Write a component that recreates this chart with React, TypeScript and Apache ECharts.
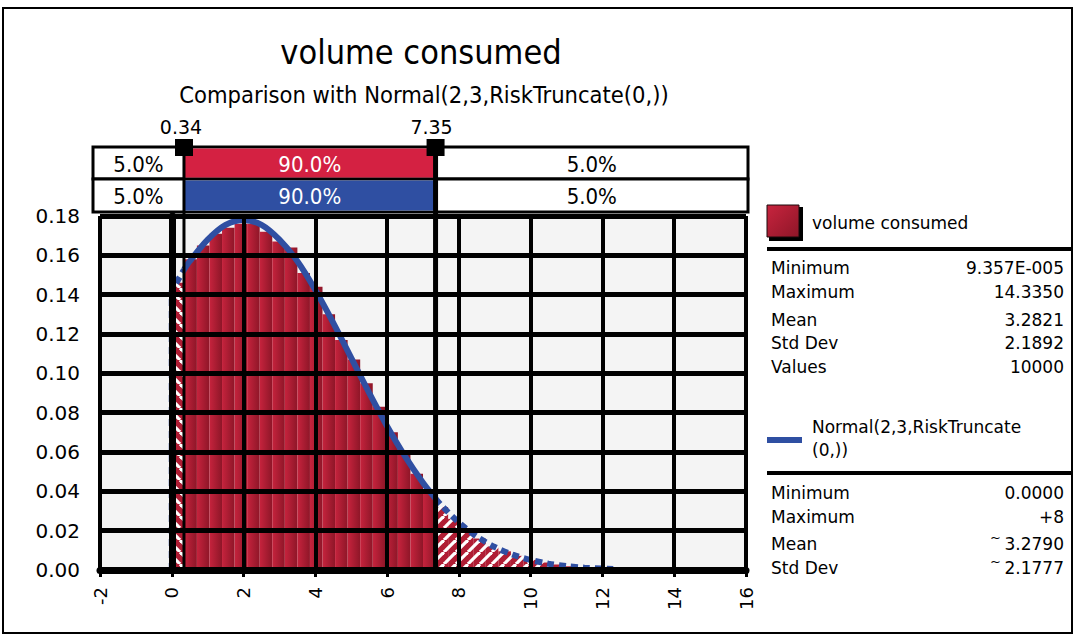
import React, { useEffect, useRef } from 'react';
import * as echarts from 'echarts';

// ---- texts ----
const TITLE = 'volume consumed';
const SUBTITLE = 'Comparison with Normal(2,3,RiskTruncate(0,))';
const SIM_NAME = 'volume consumed';
const FIT_NAME_LINES = ['Normal(2,3,RiskTruncate', '(0,))'];

// ---- delimiters and band percentages ----
const DELIMITERS = [0.34, 7.35];
const DELIMITER_LABELS = ['0.34', '7.35'];
const SIM_BANDS = ['5.0%', '90.0%', '5.0%'];
const FIT_BANDS = ['5.0%', '90.0%', '5.0%'];

// ---- axes ----
const X_MIN = -2;
const X_MAX = 16;
const X_STEP = 2;
const Y_MIN = 0;
const Y_MAX = 0.18;
const Y_STEP = 0.02;

// ---- simulated histogram (bin lower edges, bin width, density) ----
const BIN_WIDTH = 0.35;
const binStarts = [
  0, 0.35, 0.7, 1.05, 1.4, 1.75, 2.1, 2.45, 2.8, 3.15,
  3.5, 3.85, 4.2, 4.55, 4.9, 5.25, 5.6, 5.95, 6.3, 6.65,
  7.0, 7.35, 7.7, 8.05, 8.4, 8.75, 9.1, 9.45, 9.8, 10.15,
  10.5, 10.85, 11.2, 11.55, 11.9, 12.25, 12.6, 12.95, 13.3, 13.65,
  14.0,
];
const binDensity = [
  0.146, 0.158, 0.165, 0.171, 0.174, 0.176, 0.176, 0.172, 0.167, 0.164,
  0.151, 0.144, 0.130, 0.117, 0.107, 0.095, 0.083, 0.070, 0.059, 0.049,
  0.041, 0.032, 0.026, 0.020, 0.016, 0.012, 0.0095, 0.0072, 0.0052, 0.0038,
  0.0028, 0.0019, 0.0013, 0.0009, 0.0006, 0.0004, 0.0003, 0.0002, 0.0001, 0.0001,
  0.0001,
];

// ---- fitted Normal(2,3) truncated at 0 ----
const fitX = [
  0, 0, 0.34, 0.5, 1.0, 1.5, 2.0, 2.5, 3.0, 3.5, 4.0, 4.5, 5.0, 5.5, 6.0, 6.5, 7.0,
  7.35, 7.5, 8.0, 8.5, 9.0, 9.5, 10.0, 10.5, 11.0, 11.5, 12.0, 12.3,
];
const fitY = [
  0, 0.142, 0.1527, 0.157, 0.168, 0.1755, 0.178, 0.1755, 0.168, 0.157, 0.1424, 0.1257,
  0.1079, 0.0901, 0.0731, 0.0578, 0.0444, 0.0363, 0.0331, 0.0241, 0.017, 0.0117,
  0.0078, 0.0051, 0.0032, 0.002, 0.0012, 0.0007, 0.0005,
];

// ---- statistics panels ----
const simStatLabels = ['Minimum', 'Maximum', 'Mean', 'Std Dev', 'Values'];
const simStatValues = ['9.357E-005', '14.3350', '3.2821', '2.1892', '10000'];
const fitStatLabels = ['Minimum', 'Maximum', 'Mean', 'Std Dev'];
const fitStatValues = ['0.0000', '+8', '3.2790', '2.1777'];
const fitStatApprox = [false, false, true, true];

const FONT = '"DejaVu Sans", sans-serif';
const FONT_C = '"DejaVu Sans Condensed", "DejaVu Sans", sans-serif';
const RED = '#b01d34';
const RED_BAND = '#d42142';
const BLUE = '#2f4fa2';
const PLOT_BG = '#f4f4f4';

function hatchCanvas(dir: number) {
  const c = document.createElement('canvas');
  c.width = 12;
  c.height = 12;
  const g = c.getContext('2d')!;
  g.fillStyle = RED;
  g.fillRect(0, 0, 12, 12);
  g.strokeStyle = '#ffffff';
  g.lineWidth = 3.2;
  for (const k of [-12, 0, 12]) {
    g.beginPath();
    if (dir > 0) {
      g.moveTo(k, 12);
      g.lineTo(k + 12, 0);
    } else {
      g.moveTo(k, 0);
      g.lineTo(k + 12, 12);
    }
    g.stroke();
  }
  return c;
}

function pointsBetween(lo: number, hi: number) {
  const out: number[][] = [];
  for (let i = 0; i < fitX.length; i++) {
    if (fitX[i] >= lo && fitX[i] <= hi) out.push([fitX[i], fitY[i]]);
  }
  return out;
}

export default function App() {
  const ref = useRef<HTMLDivElement>(null);

  useEffect(() => {
    const chart = echarts.init(ref.current!, null, { renderer: 'svg' });
    const leftHatch = { image: hatchCanvas(-1), repeat: 'repeat' };
    const rightHatch = { image: hatchCanvas(1), repeat: 'repeat' };

    const grid = { left: 100, top: 216, width: 646, height: 354 };

    chart.setOption({
      animation: false,
      backgroundColor: '#ffffff',
      grid: { ...grid, show: true, backgroundColor: PLOT_BG, borderWidth: 0 },
      xAxis: {
        type: 'value',
        min: X_MIN,
        max: X_MAX,
        interval: X_STEP,
        z: 10,
        axisLine: { show: true, onZero: false, lineStyle: { color: '#000', width: 7 } },
        axisTick: { show: true, length: 7, lineStyle: { color: '#000', width: 3 } },
        axisLabel: { rotate: 90, margin: 17, fontSize: 18, fontFamily: FONT, color: '#000' },
        splitLine: { show: true, lineStyle: { color: '#000', width: 4 } },
      },
      yAxis: {
        type: 'value',
        min: Y_MIN,
        max: Y_MAX,
        interval: Y_STEP,
        z: 10,
        axisLine: { show: true, lineStyle: { color: '#000', width: 7 } },
        axisTick: { show: true, length: 7, lineStyle: { color: '#000', width: 2 } },
        axisLabel: {
          margin: 20,
          fontSize: 20,
          fontFamily: FONT,
          color: '#000',
          formatter: (v: number) => v.toFixed(2),
        },
        splitLine: { show: true, lineStyle: { color: '#000', width: 5 } },
      },
      series: [
        {
          type: 'custom',
          name: SIM_NAME,
          z: 2,
          data: binStarts.map((s, i) => [s, s + BIN_WIDTH, binDensity[i]]),
          encode: { x: [0, 1], y: 2 },
          renderItem: (_p: any, api: any) => {
            const x0 = api.value(0);
            const x1 = api.value(1);
            const v = api.value(2);
            const a = api.coord([x0, v]);
            const b = api.coord([x1, 0]);
            let fill: any;
            if (x0 < DELIMITERS[0]) fill = leftHatch;
            else if (x0 >= DELIMITERS[1] - 1e-9) fill = rightHatch;
            else
              fill = new echarts.graphic.LinearGradient(0, 0, 1, 0, [
                { offset: 0, color: '#c6233d' },
                { offset: 1, color: '#8e1628' },
              ]);
            return {
              type: 'rect',
              shape: { x: a[0], y: a[1], width: b[0] - a[0], height: b[1] - a[1] },
              style: { fill },
            };
          },
        },
        {
          type: 'line',
          z: 3,
          data: pointsBetween(X_MIN, DELIMITERS[0]),
          showSymbol: false,
          lineStyle: { color: BLUE, width: 6, type: [7, 5] },
        },
        {
          type: 'line',
          z: 3,
          smooth: 0.3,
          data: pointsBetween(DELIMITERS[0], DELIMITERS[1]),
          showSymbol: false,
          lineStyle: { color: BLUE, width: 6 },
        },
        {
          type: 'line',
          z: 3,
          smooth: 0.3,
          data: pointsBetween(DELIMITERS[1], X_MAX),
          showSymbol: false,
          lineStyle: { color: BLUE, width: 6, type: [7, 5] },
        },
      ],
    });

    // pixel positions of the delimiters and the plot edges
    const p0 = chart.convertToPixel({ gridIndex: 0 }, [DELIMITERS[0], Y_MIN]) as number[];
    const p1 = chart.convertToPixel({ gridIndex: 0 }, [DELIMITERS[1], Y_MAX]) as number[];
    const pl = chart.convertToPixel({ gridIndex: 0 }, [X_MIN, Y_MAX]) as number[];
    const pr = chart.convertToPixel({ gridIndex: 0 }, [X_MAX, Y_MIN]) as number[];
    const d0 = p0[0];
    const d1 = p1[0];
    const plotBottom = pr[1];
    const tblL = pl[0] - 7;
    const tblR = pr[0] + 2;
    const rowTop = 147;
    const rowMid = 179;
    const rowBot = 212;
    const centerX = (pl[0] + pr[0]) / 2;

    const txt = (x: number, y: number, text: string, size: number, extra: any = {}) => ({
      type: 'text',
      x,
      y,
      z: 120,
      style: {
        text,
        fontSize: size,
        fontFamily: extra.fontFamily || FONT,
        fill: extra.fill || '#000',
        align: extra.align || 'left',
        verticalAlign: 'middle',
      },
    });

    const graphic: any[] = [];
    // figure frame
    graphic.push({
      type: 'rect',
      z: 120,
      shape: { x: 3, y: 8, width: 1069, height: 625 },
      style: { fill: 'none', stroke: '#000', lineWidth: 2 },
    });
    graphic.push(txt(centerX - 2, 52, TITLE, 34, { align: 'center', fontFamily: FONT_C }));
    graphic.push(txt(centerX + 1, 95, SUBTITLE, 23.5, { align: 'center', fontFamily: FONT_C }));
    graphic.push(txt(d0 - 3, 127, DELIMITER_LABELS[0], 19, { align: 'center' }));
    graphic.push(txt(d1 - 4, 127, DELIMITER_LABELS[1], 19, { align: 'center' }));

    // band table
    const rows = [
      { top: rowTop, bot: rowMid, color: RED_BAND, labels: SIM_BANDS },
      { top: rowMid, bot: rowBot, color: BLUE, labels: FIT_BANDS },
    ];
    rows.forEach((r) => {
      graphic.push({
        type: 'rect',
        z: 110,
        shape: { x: tblL, y: r.top, width: tblR - tblL, height: r.bot - r.top },
        style: { fill: '#fff', stroke: '#000', lineWidth: 3 },
      });
      graphic.push({
        type: 'rect',
        z: 111,
        shape: { x: d0, y: r.top + 1.5, width: d1 - d0, height: r.bot - r.top - 3 },
        style: { fill: r.color },
      });
      const cy = (r.top + r.bot) / 2 + 1;
      graphic.push(txt((tblL + d0) / 2, cy, r.labels[0], 22, { align: 'center', fontFamily: FONT_C }));
      graphic.push(txt((d0 + d1) / 2, cy, r.labels[1], 22, { align: 'center', fontFamily: FONT_C, fill: '#fff' }));
      graphic.push(txt((d1 + tblR) / 2, cy, r.labels[2], 22, { align: 'center', fontFamily: FONT_C }));
    });

    // delimiter markers: square handle, line through table and plot
    [
      { x: d0, w: 3 },
      { x: d1, w: 5 },
    ].forEach((m) => {
      graphic.push({
        type: 'line',
        z: 115,
        shape: { x1: m.x, y1: 150, x2: m.x, y2: plotBottom },
        style: { stroke: '#000', lineWidth: m.w },
      });
      graphic.push({
        type: 'rect',
        z: 116,
        shape: { x: m.x - 9, y: 139, width: 18, height: 17 },
        style: { fill: '#000' },
      });
    });

    // legend: simulated
    const LX = 767;
    const VX = 1064;
    graphic.push({
      type: 'rect',
      z: 120,
      shape: { x: LX + 2, y: 207, width: 34, height: 34 },
      style: { fill: '#000' },
    });
    graphic.push({
      type: 'rect',
      z: 121,
      shape: { x: LX, y: 205, width: 32, height: 32 },
      style: {
        fill: new echarts.graphic.LinearGradient(0, 0, 1, 1, [
          { offset: 0, color: '#c8243e' },
          { offset: 1, color: '#8e1628' },
        ]),
        stroke: '#1a0a0c',
        lineWidth: 1,
      },
    });
    graphic.push(txt(812, 223, SIM_NAME, 17));
    graphic.push({
      type: 'line',
      z: 120,
      shape: { x1: LX, y1: 249, x2: 1072, y2: 249 },
      style: { stroke: '#000', lineWidth: 4 },
    });
    const simRowsY = [268, 292, 320, 343, 367];
    simStatLabels.forEach((l, i) => {
      graphic.push(txt(771, simRowsY[i], l, 17));
      graphic.push(txt(VX, simRowsY[i], simStatValues[i], 17, { align: 'right' }));
    });

    // legend: fitted
    graphic.push({
      type: 'line',
      z: 120,
      shape: { x1: LX, y1: 440, x2: LX + 35, y2: 440 },
      style: { stroke: BLUE, lineWidth: 6 },
    });
    graphic.push(txt(812, 427, FIT_NAME_LINES[0], 17));
    graphic.push(txt(812, 450, FIT_NAME_LINES[1], 17));
    graphic.push({
      type: 'line',
      z: 120,
      shape: { x1: LX, y1: 473, x2: 1072, y2: 473 },
      style: { stroke: '#000', lineWidth: 4 },
    });
    const fitRowsY = [493, 517, 544, 568];
    fitStatLabels.forEach((l, i) => {
      graphic.push(txt(771, fitRowsY[i], l, 17));
      graphic.push(txt(VX, fitRowsY[i], fitStatValues[i], 17, { align: 'right' }));
      if (fitStatApprox[i]) {
        graphic.push(txt(VX - 63, fitRowsY[i] - 7, '~', 13, { align: 'right' }));
      }
    });

    chart.setOption({ graphic });

    return () => chart.dispose();
  }, []);

  return (
    <div
      ref={ref}
      style={{ position: 'absolute', left: 0, top: 0, width: 1076, height: 637, background: '#fff' }}
    />
  );
}
